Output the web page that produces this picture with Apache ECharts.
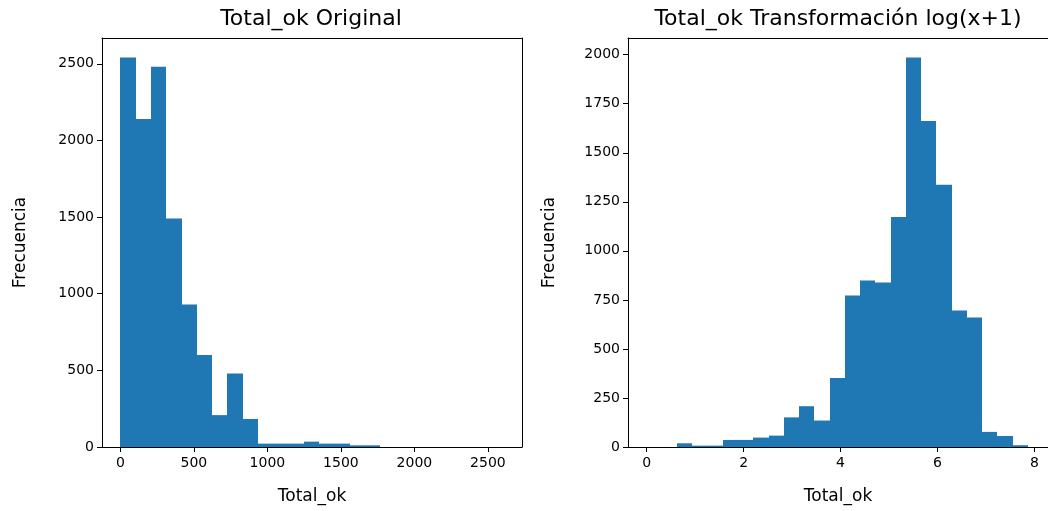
<!DOCTYPE html>
<html>
<head>
<meta charset="utf-8">
<script src="https://cdn.jsdelivr.net/npm/echarts@6/dist/echarts.min.js"></script>
<style>
html,body{margin:0;padding:0;background:#fff;overflow:hidden;}
#chart{width:1048px;height:511px;}
</style>
</head>
<body>
<div id="chart"></div>
<script>
// ---- Data ----
const leftTitle = 'Total_ok Original';
const rightTitle = 'Total_ok Transformación log(x+1)';
const xName = 'Total_ok';
const yName = 'Frecuencia';

// Left histogram: 25 bins over [0, 2600]
const leftRange = [0, 2600];
const leftCounts = [2540, 2140, 2480, 1491, 930, 600, 208, 480, 183, 22, 22, 22, 35, 22, 22, 11, 11, 0, 0, 0, 0, 0, 0, 0, 0];
const leftXTicks = [0, 500, 1000, 1500, 2000, 2500];
const leftYTicks = [0, 500, 1000, 1500, 2000, 2500];

// Right histogram: 25 bins over [0, log(2601)]
const rightRange = [0, 7.863];
const rightCounts = [0, 0, 19, 7, 7, 36, 36, 48, 58, 151, 208, 135, 352, 772, 849, 839, 1173, 1985, 1662, 1337, 696, 660, 77, 56, 9];
const rightXTicks = [0, 2, 4, 6, 8];
const rightYTicks = [0, 250, 500, 750, 1000, 1250, 1500, 1750, 2000];

function toBins(range, counts) {
  const w = (range[1] - range[0]) / counts.length;
  return counts.map((c, i) => [range[0] + i * w, range[0] + (i + 1) * w, c]);
}

const FONT = 'DejaVu Sans';
const TXT = '#000';
const BAR = '#1f77b4';
const TICK_FS = 14;
const NAME_FS = 17;

function renderBar(params, api) {
  const p0 = api.coord([api.value(0), api.value(2)]);
  const p1 = api.coord([api.value(1), 0]);
  const x0 = Math.round(p0[0]), x1 = Math.round(p1[0]);
  return {
    type: 'rect',
    shape: { x: x0, y: p0[1], width: x1 - x0, height: p1[1] - p0[1] },
    style: { fill: BAR }
  };
}

const lineStyle = { color: '#000', width: 1 };

function xAxisCfg(idx, min, max, ticks) {
  return {
    type: 'value', gridIndex: idx, min: min, max: max, position: 'bottom',
    name: xName, nameLocation: 'middle', nameGap: 41,
    nameTextStyle: { fontFamily: FONT, fontSize: NAME_FS, color: TXT },
    axisLine: { show: true, onZero: false, lineStyle: lineStyle },
    axisTick: { show: true, inside: false, length: 5, customValues: ticks, lineStyle: lineStyle },
    axisLabel: { customValues: ticks, formatter: v => String(v), fontFamily: FONT, fontSize: TICK_FS, color: TXT, margin: 9 },
    splitLine: { show: false }
  };
}
function xTopCfg(idx, min, max) {
  return {
    type: 'value', gridIndex: idx, min: min, max: max, position: 'top',
    axisLine: { show: true, onZero: false, lineStyle: lineStyle },
    axisTick: { show: false }, axisLabel: { show: false }, splitLine: { show: false }
  };
}
function yAxisCfg(idx, max, ticks, gap) {
  return {
    type: 'value', gridIndex: idx, min: 0, max: max, position: 'left',
    name: yName, nameLocation: 'middle', nameGap: gap, nameRotate: 90,
    nameTextStyle: { fontFamily: FONT, fontSize: NAME_FS, color: TXT },
    axisLine: { show: true, onZero: false, lineStyle: lineStyle },
    axisTick: { show: true, inside: false, length: 5, customValues: ticks, lineStyle: lineStyle },
    axisLabel: { customValues: ticks, formatter: v => String(v), fontFamily: FONT, fontSize: TICK_FS, color: TXT, margin: 8 },
    splitLine: { show: false }
  };
}
function yRightCfg(idx, max) {
  return {
    type: 'value', gridIndex: idx, min: 0, max: max, position: 'right',
    axisLine: { show: true, onZero: false, lineStyle: lineStyle },
    axisTick: { show: false }, axisLabel: { show: false }, splitLine: { show: false }
  };
}

const chart = echarts.init(document.getElementById('chart'), null, { renderer: 'canvas' });
chart.setOption({
  animation: false,
  backgroundColor: '#fff',
  graphic: [
    { type: 'text', x: 311, y: 19, style: { text: leftTitle, font: '22px "DejaVu Sans"', fill: TXT, textAlign: 'center', textVerticalAlign: 'middle' } },
    { type: 'text', x: 838, y: 19, style: { text: rightTitle, font: '22px "DejaVu Sans"', fill: TXT, textAlign: 'center', textVerticalAlign: 'middle' } }
  ],
  grid: [
    { left: 102, top: 38, width: 420, height: 409 },
    { left: 628, top: 38, width: 423, height: 409 }
  ],
  xAxis: [
    xAxisCfg(0, -125, 2732, leftXTicks),
    xAxisCfg(1, -0.385, 8.28, rightXTicks),
    xTopCfg(0, -125, 2732),
    xTopCfg(1, -0.385, 8.28)
  ],
  yAxis: [
    yAxisCfg(0, 2668, leftYTicks, 73),
    yAxisCfg(1, 2085, rightYTicks, 70),
    yRightCfg(0, 2668)
  ],
  series: [
    { type: 'custom', xAxisIndex: 0, yAxisIndex: 0, renderItem: renderBar, encode: { x: [0, 1], y: 2 }, data: toBins(leftRange, leftCounts) },
    { type: 'custom', xAxisIndex: 1, yAxisIndex: 1, renderItem: renderBar, encode: { x: [0, 1], y: 2 }, data: toBins(rightRange, rightCounts) }
  ]
});
</script>
</body>
</html>
